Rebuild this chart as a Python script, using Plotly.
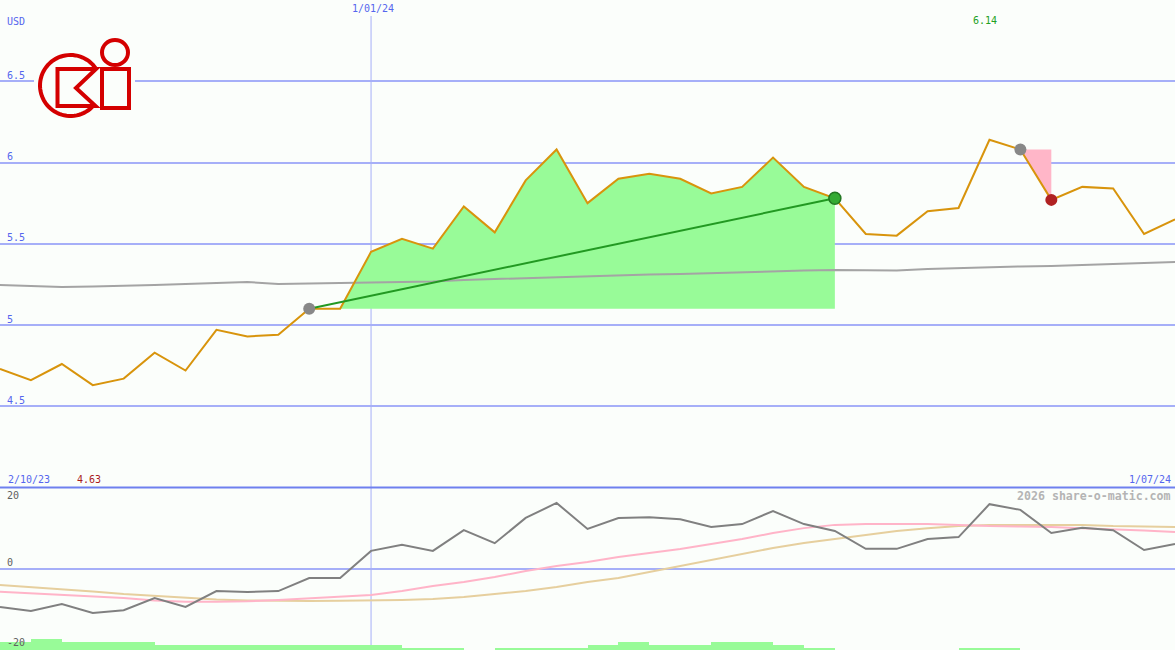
import math
import plotly.graph_objects as go

# ---------------- data ----------------
dates = [
    "2023-10-09", "2023-10-16", "2023-10-23", "2023-10-30", "2023-11-06", "2023-11-13",
    "2023-11-20", "2023-11-27", "2023-12-04", "2023-12-11", "2023-12-18", "2023-12-25",
    "2024-01-01", "2024-01-08", "2024-01-15", "2024-01-22", "2024-01-29", "2024-02-05",
    "2024-02-12", "2024-02-19", "2024-02-26", "2024-03-04", "2024-03-11", "2024-03-18",
    "2024-03-25", "2024-04-01", "2024-04-08", "2024-04-15", "2024-04-22", "2024-04-29",
    "2024-05-06", "2024-05-13", "2024-05-20", "2024-05-27", "2024-06-03", "2024-06-10",
    "2024-06-17", "2024-06-24", "2024-07-01",
]
price = [
    4.73, 4.66, 4.76, 4.63, 4.67, 4.83, 4.72, 4.97, 4.93, 4.94,
    5.10, 5.10, 5.45, 5.53, 5.47, 5.73, 5.57, 5.89, 6.08, 5.75,
    5.90, 5.93, 5.90, 5.81, 5.85, 6.03, 5.85, 5.78, 5.56, 5.55,
    5.70, 5.72, 6.14, 6.08, 5.77, 5.85, 5.84, 5.56, 5.65,
]
moving_avg = [
    5.246, 5.240, 5.234, 5.237, 5.240, 5.246, 5.252, 5.258, 5.265, 5.252,
    5.255, 5.255, 5.258, 5.262, 5.268, 5.277, 5.283, 5.289, 5.295, 5.302,
    5.308, 5.311, 5.314, 5.320, 5.326, 5.332, 5.335, 5.338, 5.338, 5.335,
    5.345, 5.351, 5.357, 5.360, 5.363, 5.369, 5.372, 5.378, 5.388,
]
momentum = [
    -9.4, -10.4, -8.7, -10.9, -10.2, -7.2, -9.4, -5.5, -5.7, -5.5,
    -2.3, -2.3, 4.4, 5.9, 4.4, 9.5, 6.3, 12.5, 16.2, 9.8,
    12.5, 12.7, 12.2, 10.3, 11.0, 14.2, 11.0, 9.3, 4.9, 4.9,
    7.3, 7.8, 15.9, 14.5, 8.8, 10.1, 9.5, 4.6, 6.1,
]
signal_pink = [
    -5.65, -6.04, -6.46, -6.83, -7.2, -7.82, -8.11, -8.11, -8.01, -7.69,
    -7.32, -6.95, -6.46, -5.48, -4.25, -3.26, -2.03, -0.55, 0.68, 1.66,
    2.89, 3.88, 4.86, 6.09, 7.32, 8.8, 10.0, 10.8, 11.0, 11.0,
    11.0, 10.8, 10.5, 10.4, 10.3, 10.0, 9.78, 9.42, 9.05,
]
signal_tan = [
    -4.0, -4.49, -4.98, -5.6, -6.22, -6.71, -7.2, -7.57, -7.82, -7.94,
    -7.94, -7.86, -7.82, -7.69, -7.45, -6.95, -6.22, -5.48, -4.49, -3.26,
    -2.28, -0.8, 0.68, 2.15, 3.63, 5.11, 6.34, 7.32, 8.31, 9.29,
    10.0, 10.5, 10.8, 10.8, 10.8, 10.8, 10.5, 10.4, 10.3,
]
volume = [
    3, 4, 3, 3, 3, 2, 2, 2, 2, 2,
    2, 2, 2, 1, 1, 0, 1, 1, 1, 2,
    3, 2, 2, 3, 3, 2, 1, 0, 0, 0,
    0, 1, 1, 0, 0, 0, 0, 0, 0,
]
rise_start, rise_end = 10, 27
fall_start, fall_end = 33, 34
price_ticks = [4.5, 5, 5.5, 6, 6.5]
price_tick_labels = ["4.5", "5", "5.5", "6", "6.5"]
osc_ticks = [20, 0, -20]
osc_tick_labels = ["20", "0", "-20"]
currency = "USD"
mid_date = "2024-01-01"
mid_label = "1/01/24"
start_label = "2/10/23"
end_label = "1/07/24"
watermark = "2026 share-o-matic.com"

# ---------------- style ----------------
W, H = 1175, 650
BG = "#fbfefb"
GRID = "#a6aff8"
SEP = "#6f80ef"
BLUE_TXT = "#5566ee"
FONT = "DejaVu Sans Mono"
ORANGE = "#d8940c"
PALEGREEN = "#98fb98"
LOGO_RED = "#d40000"
MAIN_DOMAIN = [0.25, 1.0]
LOW_DOMAIN = [0.0, 0.25]


def px(x):
    return x / W


def py(y):
    return 1 - y / H


fig = go.Figure()

# green rise area
fx = dates[rise_start:rise_end + 1] + [dates[rise_end], dates[rise_start]]
fy = price[rise_start:rise_end + 1] + [price[rise_start], price[rise_start]]
fig.add_trace(go.Scatter(x=fx, y=fy, mode="lines", fill="toself", fillcolor=PALEGREEN,
                         line=dict(width=0), hoverinfo="skip"))
# pink fall triangle
tx = [dates[fall_start], dates[fall_end], dates[fall_end], dates[fall_start]]
ty = [price[fall_start], price[fall_start], price[fall_end], price[fall_start]]
fig.add_trace(go.Scatter(x=tx, y=ty, mode="lines", fill="toself", fillcolor="#ffb6c8",
                         line=dict(width=0), hoverinfo="skip"))
# moving average
fig.add_trace(go.Scatter(x=dates, y=moving_avg, mode="lines",
                         line=dict(color="#a4a4a4", width=2)))
# price
fig.add_trace(go.Scatter(x=dates, y=price, mode="lines",
                         line=dict(color=ORANGE, width=2)))
# trend line
fig.add_trace(go.Scatter(x=[dates[rise_start], dates[rise_end]],
                         y=[price[rise_start], price[rise_end]], mode="lines",
                         line=dict(color="#229922", width=2)))
# markers
fig.add_trace(go.Scatter(x=[dates[rise_start], dates[fall_start]],
                         y=[price[rise_start], price[fall_start]], mode="markers",
                         marker=dict(size=12, color="#888888", line=dict(width=0))))
fig.add_trace(go.Scatter(x=[dates[rise_end]], y=[price[rise_end]], mode="markers",
                         marker=dict(size=12, color="#33aa33", line=dict(width=1.5, color="#227722"))))
fig.add_trace(go.Scatter(x=[dates[fall_end]], y=[price[fall_end]], mode="markers",
                         marker=dict(size=12, color="#b02222", line=dict(width=0))))

# lower panel
fig.add_trace(go.Scatter(x=dates, y=signal_tan, yaxis="y2", mode="lines",
                         line=dict(color="#e6cf9e", width=2)))
fig.add_trace(go.Scatter(x=dates, y=signal_pink, yaxis="y2", mode="lines",
                         line=dict(color="#ffb4c8", width=2)))
fig.add_trace(go.Scatter(x=dates, y=momentum, yaxis="y2", mode="lines",
                         line=dict(color="#808080", width=2)))
fig.add_trace(go.Bar(x=dates, y=volume, yaxis="y3", width=7 * 86400000, offset=0,
                     marker=dict(color=PALEGREEN, line=dict(width=0))))

shapes = [
    dict(type="line", xref="x", yref="paper", x0=mid_date, x1=mid_date,
         y0=0, y1=py(16), line=dict(color=GRID, width=1), layer="below"),
    dict(type="line", xref="paper", yref="paper", x0=0, x1=1, y0=0.25, y1=0.25,
         line=dict(color=SEP, width=2), layer="above"),
    # logo background
    dict(type="rect", xref="paper", yref="paper", x0=px(34), x1=px(135), y0=py(122), y1=py(33),
         fillcolor=BG, line=dict(width=0), layer="above"),
]

# logo: C ring as polyline arc
cx, cy, r = 70.5, 85.5, 30.5
a0, a1 = -32.9, -320.1
n = 60
pts = []
for k in range(n + 1):
    a = math.radians(a0 + (a1 - a0) * k / n)
    pts.append((cx + r * math.cos(a), cy + r * math.sin(a)))
arc_path = "M " + " L ".join(f"{px(x):.5f},{py(y):.5f}" for x, y in pts)
shapes.append(dict(type="path", xref="paper", yref="paper", path=arc_path,
                   line=dict(color=LOGO_RED, width=4), layer="above"))
k_pts = [(57.5, 69), (96, 69), (76, 88), (95.5, 106), (57.5, 106)]
k_path = "M " + " L ".join(f"{px(x):.5f},{py(y):.5f}" for x, y in k_pts) + " Z"
shapes.append(dict(type="path", xref="paper", yref="paper", path=k_path,
                   fillcolor=BG, line=dict(color=LOGO_RED, width=4), layer="above"))
shapes.append(dict(type="circle", xref="paper", yref="paper", x0=px(102), x1=px(128),
                   y0=py(65), y1=py(40), fillcolor=BG,
                   line=dict(color=LOGO_RED, width=4), layer="above"))
shapes.append(dict(type="rect", xref="paper", yref="paper", x0=px(102), x1=px(129),
                   y0=py(108), y1=py(69), fillcolor=BG,
                   line=dict(color=LOGO_RED, width=4), layer="above"))

annotations = []


def label(text, x, y, color, anchor="left", size=10, xref="paper", xshift=0, bold=False):
    annotations.append(dict(
        text=f"<b>{text}</b>" if bold else text, x=x, y=y, xref=xref, yref="paper",
        xanchor=anchor, yanchor="middle", showarrow=False, xshift=xshift,
        font=dict(family=FONT, size=size, color=color), borderpad=0))


label(currency, px(6), py(21.5), BLUE_TXT)
main_h = (MAIN_DOMAIN[1] - MAIN_DOMAIN[0])
for v, t in zip(price_ticks, price_tick_labels):
    yfrac = MAIN_DOMAIN[0] + (v - 4) / 3 * main_h
    label(t, px(6), yfrac + 6 / H, BLUE_TXT)
label(mid_label, mid_date, py(9), BLUE_TXT, anchor="center", xref="x", xshift=2)
imax = price.index(max(price))
imin = price.index(min(price))
label(f"{max(price):.2f}", dates[imax], py(21), "#22a022", anchor="center", xref="x", xshift=-4)
label(f"{min(price):.2f}", dates[imin], py(479), "#aa1c1c", anchor="center", xref="x", xshift=-4)
label(start_label, px(7), py(479), BLUE_TXT)
label(end_label, px(1172), py(479), BLUE_TXT, anchor="right")
label(watermark, px(1172), py(496), "#b4b4b4", anchor="right", size=11.6, bold=True)
osc_label_y = {20: 495.5, 0: 562.5, -20: 642.5}
for v, t in zip(osc_ticks, osc_tick_labels):
    label(t, px(6), py(osc_label_y[v]), "#606060")

fig.update_layout(
    width=W, height=H, margin=dict(l=0, r=0, t=0, b=0),
    paper_bgcolor=BG, plot_bgcolor=BG, showlegend=False, bargap=0,
    xaxis=dict(type="date", range=[dates[0], dates[-1]], domain=[0, 1],
               showgrid=False, zeroline=False, showticklabels=False, showline=False, ticks=""),
    yaxis=dict(domain=MAIN_DOMAIN, range=[4, 7], tickvals=price_ticks, showticklabels=False,
               gridcolor=GRID, gridwidth=2, zeroline=False, showline=False, ticks=""),
    yaxis2=dict(domain=LOW_DOMAIN, range=[-20, 20], tickvals=[0], showticklabels=False,
                gridcolor=GRID, gridwidth=2, zeroline=False, showline=False, ticks="", anchor="x"),
    yaxis3=dict(overlaying="y2", anchor="x", range=[0, 162.5 / 3], visible=False,
                showgrid=False, zeroline=False),
    shapes=shapes, annotations=annotations,
)

fig.write_html("out.html", config={"displayModeBar": False},
               post_script="document.body.style.margin='0px';document.body.style.background='" + BG + "';")
